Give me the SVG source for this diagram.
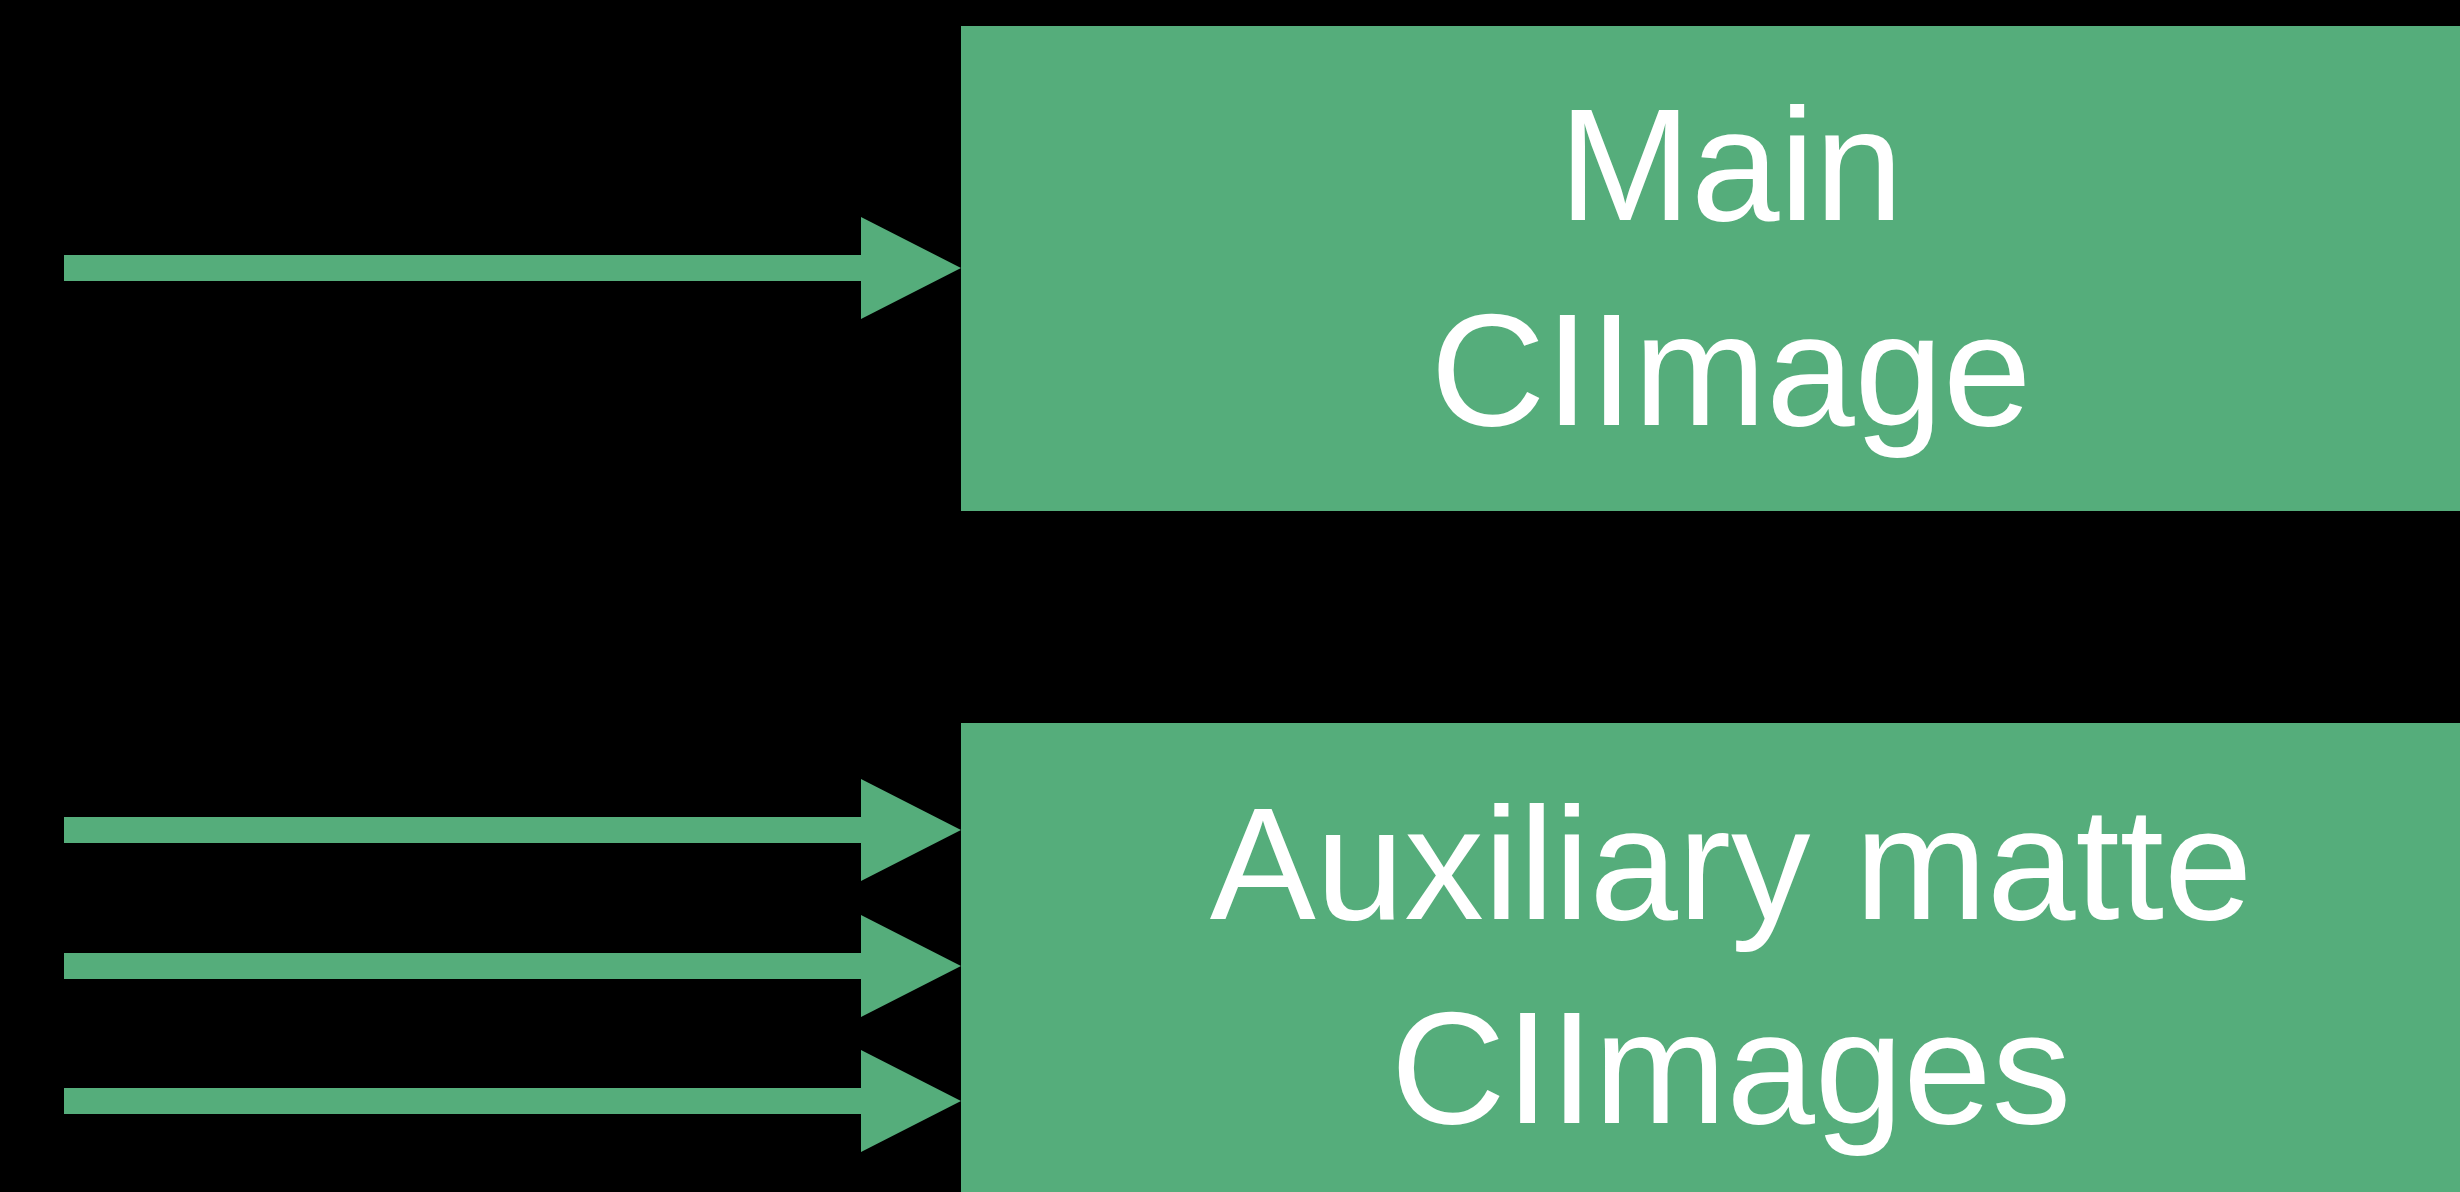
<svg xmlns="http://www.w3.org/2000/svg" width="2460" height="1192" viewBox="0 0 2460 1192">
<style>
.box{fill:#55ad7b}
.arrow{fill:#55ad7b}
.lbl{font-family:"Liberation Sans",Arial,sans-serif;font-size:159px;fill:#ffffff;text-anchor:middle}
</style>
<rect x="0" y="0" width="2460" height="1192" fill="#000000"/>
<g id="connectors">
<polygon class="arrow" points="64,255 861,255 861,217 961,268 861,319 861,281 64,281"/>
<polygon class="arrow" points="64,817 861,817 861,779 961,830 861,881 861,843 64,843"/>
<polygon class="arrow" points="64,953 861,953 861,915 961,966 861,1017 861,979 64,979"/>
<polygon class="arrow" points="64,1088 861,1088 861,1050 961,1101 861,1152 861,1114 64,1114"/>
</g>
<g id="main-ciimage">
<rect class="box" x="961" y="26" width="1540" height="485"/>
<text class="lbl" x="1731" y="220">Main</text>
<text class="lbl" x="1731" y="425">CIImage</text>
</g>
<g id="auxiliary-matte-ciimages">
<rect class="box" x="961" y="723" width="1540" height="520"/>
<text class="lbl" x="1731" y="919">Auxiliary matte</text>
<text class="lbl" x="1731" y="1123">CIImages</text>
</g>
</svg>
